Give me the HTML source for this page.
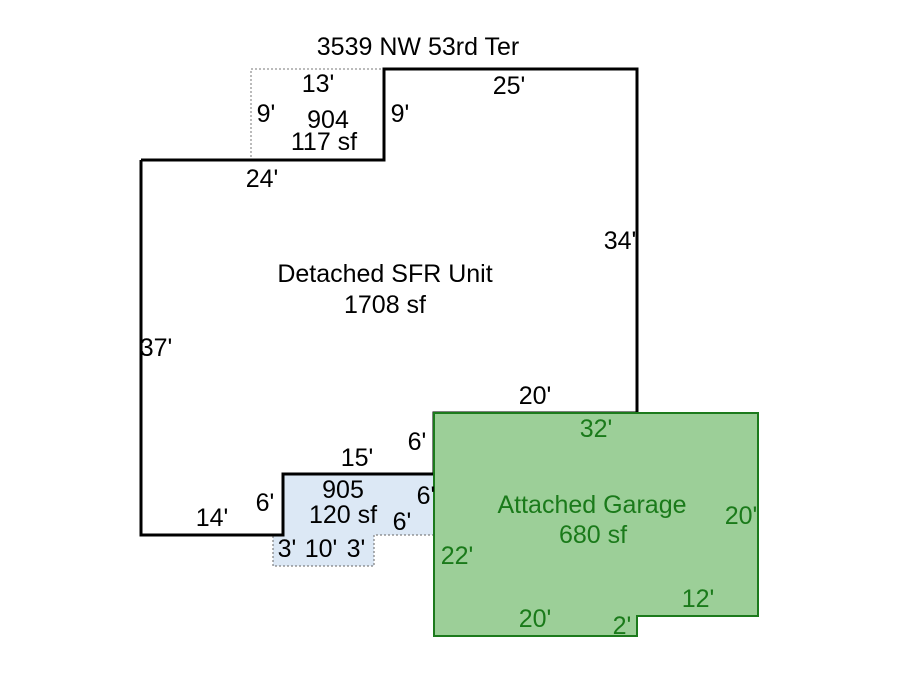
<!DOCTYPE html>
<html><head><style>
body{margin:0;background:#fff}
svg{display:block}
text{font-family:"Liberation Sans",Arial,sans-serif;font-size:25px}
</style></head><body>
<svg width="900" height="675" viewBox="0 0 900 675">
<rect width="900" height="675" fill="#fff"/>
<polygon points="251,69 384,69 384,160 251,160" fill="none" stroke="#777" stroke-width="1" stroke-dasharray="2,2"/>
<polygon points="283,474 434,474 434,535 374,535 374,566 273,566 273,535 283,535" fill="#dce8f5" stroke="#666" stroke-width="1" stroke-dasharray="2,2"/>
<polyline points="141,160 384,160 384,69 637,69 637,413 434,413 434,474 283,474 283,535 141,535 141,160" fill="none" stroke="#000" stroke-width="3"/>
<polygon points="434,413 758,413 758,616 637,616 637,636 434,636" fill="#9ccf98" stroke="#1c7a1c" stroke-width="2"/>
<g fill="#000">
<text x="418" y="55" text-anchor="middle">3539 NW 53rd Ter</text>
<text x="318" y="92" text-anchor="middle">13'</text>
<text x="509" y="94" text-anchor="middle">25'</text>
<text x="266" y="122" text-anchor="middle">9'</text>
<text x="400" y="122" text-anchor="middle">9'</text>
<text x="328" y="128" text-anchor="middle">904</text>
<text x="324" y="150" text-anchor="middle">117 sf</text>
<text x="262" y="187" text-anchor="middle">24'</text>
<text x="620" y="249" text-anchor="middle">34'</text>
<text x="385" y="282" text-anchor="middle">Detached SFR Unit</text>
<text x="385" y="313" text-anchor="middle">1708 sf</text>
<text x="156" y="356" text-anchor="middle">37'</text>
<text x="535" y="404" text-anchor="middle">20'</text>
<text x="417" y="450" text-anchor="middle">6'</text>
<text x="357" y="466" text-anchor="middle">15'</text>
<text x="343" y="498" text-anchor="middle">905</text>
<text x="343" y="523" text-anchor="middle">120 sf</text>
<text x="426" y="504" text-anchor="middle">6'</text>
<text x="402" y="530" text-anchor="middle">6'</text>
<text x="265" y="511" text-anchor="middle">6'</text>
<text x="212" y="526" text-anchor="middle">14'</text>
<text x="287" y="557" text-anchor="middle">3'</text>
<text x="321" y="557" text-anchor="middle">10'</text>
<text x="356" y="557" text-anchor="middle">3'</text>
</g>
<g fill="#1a7a1a">
<text x="596" y="437" text-anchor="middle">32'</text>
<text x="592" y="513" text-anchor="middle">Attached Garage</text>
<text x="593" y="543" text-anchor="middle">680 sf</text>
<text x="741" y="524" text-anchor="middle">20'</text>
<text x="457" y="564" text-anchor="middle">22'</text>
<text x="698" y="607" text-anchor="middle">12'</text>
<text x="535" y="627" text-anchor="middle">20'</text>
<text x="622" y="634" text-anchor="middle">2'</text>
</g>
</svg>
</body></html>
